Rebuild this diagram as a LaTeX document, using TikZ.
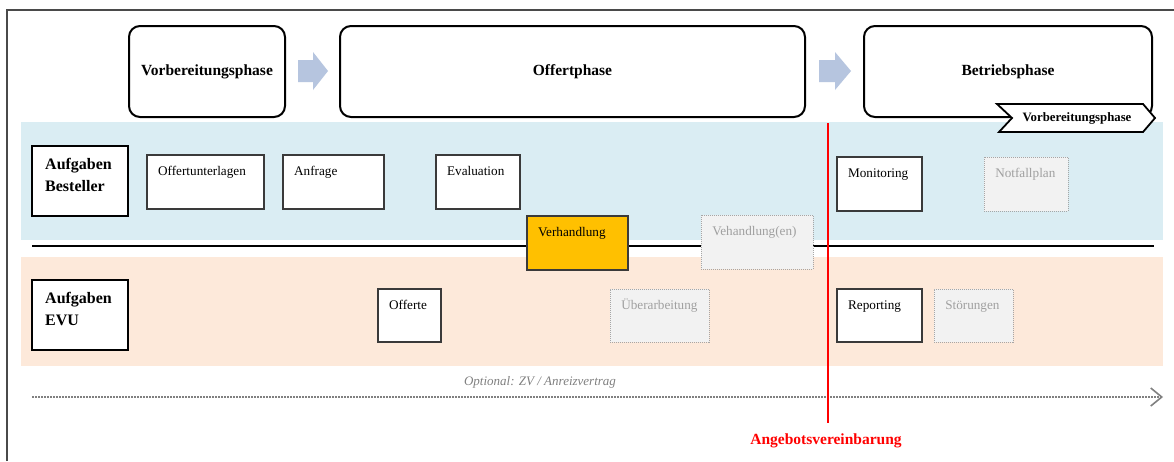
\documentclass[tikz,border=0pt]{standalone}
\usepackage{fontspec}
\setmainfont{Liberation Serif}
\usetikzlibrary{fit,calc,arrows.meta}

\definecolor{bandblue}{HTML}{DAEDF3}
\definecolor{bandpeach}{HTML}{FDE9DA}
\definecolor{phasearrow}{HTML}{B6C5DF}
\definecolor{orangebox}{HTML}{FFC000}
\definecolor{greyfill}{HTML}{F2F2F2}
\definecolor{greyline}{HTML}{A6A6A6}
\definecolor{greytext}{HTML}{A0A0A0}
\definecolor{framegrey}{HTML}{4A4A4A}
\definecolor{boxline}{HTML}{3A3A3A}

% box from (x1,y1) to (x2,y2) with its label near the top left corner
\newcommand\taskbox[8]{%
  \node[#1, fit={(#4,#5) (#6,#7)}] (#3) {};
  \node[#2, anchor=base west] (#3-text) at ($(#3.north west)+(11.5,21.2)$) {#8};}

\begin{document}
\begin{tikzpicture}[x=1pt,y=-1pt,
  phasebox/.style={draw=black, line width=2pt, rounded corners=11pt, fill=white},
  phasetext/.style={font=\fontsize{15.5}{18}\selectfont\bfseries},
  rolebox/.style={draw=black, line width=2.4pt, fill=white, inner sep=0pt},
  roletext/.style={font=\fontsize{16}{22}\selectfont\bfseries, align=left, inner sep=0pt, anchor=north west},
  taskframe/.style={draw=boxline, line width=1.1pt, fill=white, inner sep=0pt},
  orangeframe/.style={draw=boxline, line width=1.1pt, fill=orangebox, inner sep=0pt},
  optframe/.style={draw=greyline, line width=0.9pt, dash pattern=on 1pt off 1pt, fill=greyfill, inner sep=0pt},
  tasktext/.style={font=\fontsize{13.2}{15}\selectfont, inner sep=0pt},
  opttext/.style={tasktext, text=greytext},
  blockarrow/.style={fill=phasearrow, draw=none}
]
\useasboundingbox (0,0) rectangle (1174,461);
\fill[white] (0,0) rectangle (1174,461);

% outer frame (top and left edges)
\draw[framegrey, line width=1.4pt] (7,461) -- (7,10) -- (1174,10);

% swim lanes
\fill[bandblue] (21,122) rectangle (1163,240);
\fill[bandpeach] (21,257) rectangle (1163,366);
\coordinate (sepL) at (32,246);
\coordinate (sepR) at (1154,246);
\draw[black, line width=2pt] (sepL) -- (sepR);

% phases
\node[phasebox, fit={(129,26) (285,117)}, inner sep=0pt] (vorb) {};
\node[phasetext] at (vorb.center) {Vorbereitungsphase};
\node[phasebox, fit={(340,26) (805,117)}, inner sep=0pt] (offert) {};
\node[phasetext] at (offert.center) {Offertphase};
\node[phasebox, fit={(864,26) (1152,117)}, inner sep=0pt] (betrieb) {};
\node[phasetext] at (betrieb.center) {Betriebsphase};

% block arrows between the phases
\fill[blockarrow] (298,60) -- (313,60) -- (313,52) -- (328,71) -- (313,90) -- (313,82) -- (298,82) -- cycle;
\fill[blockarrow] (819,60) -- (835,60) -- (835,52) -- (851,71) -- (835,90) -- (835,82) -- (819,82) -- cycle;

% chevron tag on the operating phase
\draw[black, line width=1.8pt, fill=white, line join=miter]
  (997,104) -- (1143,104) -- (1155,118) -- (1143,132) -- (999,132) -- (1012,118) -- cycle;
\node[font=\fontsize{12.8}{14}\selectfont\bfseries] (tag) at (1077,118.5) {Vorbereitungsphase};

% role boxes
\node[rolebox, fit={(32,146) (128,216)}] (bestell) {};
\node[roletext] at (45,158.5) {Aufgaben\\Besteller};
\node[rolebox, fit={(32,280) (128,350)}] (evu) {};
\node[roletext] at (45,292.5) {Aufgaben\\EVU};

% tasks of the orderer
\taskbox{taskframe}{tasktext}{unterlagen}{147}{155}{264}{209}{Offertunterlagen}
\taskbox{taskframe}{tasktext}{anfrage}{283}{155}{384}{209}{Anfrage}
\taskbox{taskframe}{tasktext}{evaluation}{436}{155}{520}{209}{Evaluation}
\taskbox{taskframe}{tasktext}{monitoring}{837}{157}{922}{211}{Monitoring}
\taskbox{optframe}{opttext}{notfall}{984}{157}{1068}{211}{Notfallplan}

% shared negotiation tasks
\taskbox{orangeframe}{tasktext}{verhandlung}{527}{216}{628}{270}{Verhandlung}
\taskbox{optframe}{opttext}{vehandlungen}{701}{215}{813}{269}{Vehandlung(en)}

% tasks of the railway undertaking
\taskbox{taskframe}{tasktext}{offerte}{378}{289}{441}{342}{Offerte}
\taskbox{optframe}{opttext}{ueberarb}{610}{289}{709}{342}{Überarbeitung}
\taskbox{taskframe}{tasktext}{reporting}{837}{289}{922}{342}{Reporting}
\taskbox{optframe}{opttext}{stoerungen}{934}{289}{1013}{342}{Störungen}

% optional contract time line
\coordinate (tlS) at (32,397);
\coordinate (tlE) at (1163,397);
\draw[gray, line width=1.6pt, dash pattern=on 1.6pt off 1.4pt,
  -{Straight Barb[length=11pt,width=18pt,line width=1.6pt]}] (tlS) -- (tlE);
\node[font=\fontsize{13}{15}\selectfont\itshape, text=gray] (optional) at (540,382) {Optional: ZV / Anreizvertrag};

% agreement milestone
\coordinate (msTop) at (828,123);
\coordinate (msBot) at (828,423);
\draw[red, line width=2pt] (msTop) -- (msBot);
\node[font=\fontsize{15.5}{18}\selectfont\bfseries, text=red] (agreement) at (826,441) {Angebotsvereinbarung};
\end{tikzpicture}
\end{document}
